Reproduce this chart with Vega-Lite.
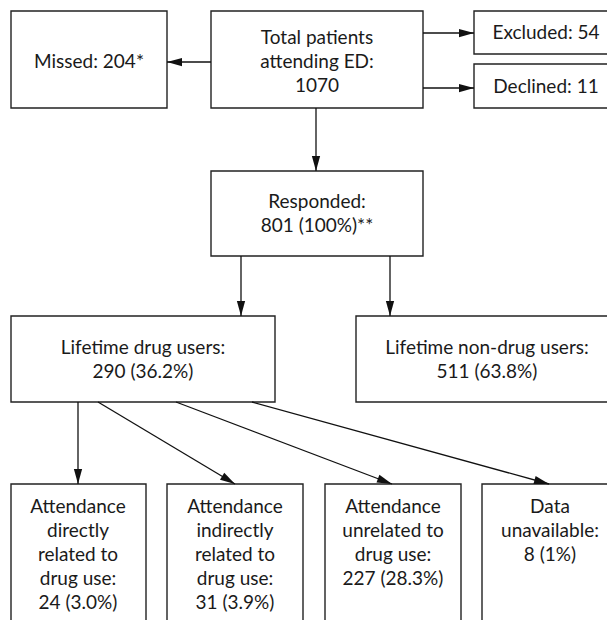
{
  "$schema": "https://vega.github.io/schema/vega-lite/v6.json",
  "width": 607,
  "height": 620,
  "padding": 0,
  "autosize": {"type": "fit", "contains": "padding"},
  "background": "white",
  "config": {"view": {"stroke": null}},
  "datasets": {
    "boxes": [
      {"name": "Missed", "x1": 11, "y1": 11, "x2": 167, "y2": 108},
      {"name": "Total", "x1": 211, "y1": 11, "x2": 423, "y2": 108},
      {"name": "Excluded", "x1": 474, "y1": 11, "x2": 618, "y2": 54},
      {"name": "Declined", "x1": 474, "y1": 64, "x2": 618, "y2": 108},
      {"name": "Responded", "x1": 211, "y1": 171, "x2": 423, "y2": 256},
      {"name": "Drug users", "x1": 11, "y1": 316, "x2": 275, "y2": 402},
      {"name": "Non-drug users", "x1": 356, "y1": 316, "x2": 618, "y2": 402},
      {"name": "Direct", "x1": 11, "y1": 484, "x2": 146, "y2": 640},
      {"name": "Indirect", "x1": 167, "y1": 484, "x2": 303, "y2": 640},
      {"name": "Unrelated", "x1": 325, "y1": 484, "x2": 461, "y2": 640},
      {"name": "Unavailable", "x1": 482, "y1": 484, "x2": 618, "y2": 640}
    ],
    "arrows": [
      {"fx": 211, "fy": 62, "tx": 167, "ty": 62},
      {"fx": 423, "fy": 33, "tx": 474, "ty": 33},
      {"fx": 423, "fy": 88, "tx": 474, "ty": 88},
      {"fx": 316, "fy": 108, "tx": 316, "ty": 171},
      {"fx": 241, "fy": 256, "tx": 241, "ty": 316},
      {"fx": 390, "fy": 256, "tx": 390, "ty": 316},
      {"fx": 78, "fy": 402, "tx": 78, "ty": 484},
      {"fx": 98, "fy": 402, "tx": 235, "ty": 484},
      {"fx": 176, "fy": 402, "tx": 392, "ty": 484},
      {"fx": 252, "fy": 402, "tx": 549, "ty": 484}
    ],
    "labels": [
      {"x": 89, "y": 62, "t": "Missed: 204*"},
      {"x": 317, "y": 38, "t": "Total patients"},
      {"x": 317, "y": 62, "t": "attending ED:"},
      {"x": 317, "y": 86, "t": "1070"},
      {"x": 546, "y": 33, "t": "Excluded: 54"},
      {"x": 546, "y": 87, "t": "Declined: 11"},
      {"x": 317, "y": 202, "t": "Responded:"},
      {"x": 317, "y": 226, "t": "801 (100%)**"},
      {"x": 143, "y": 348, "t": "Lifetime drug users:"},
      {"x": 143, "y": 372, "t": "290 (36.2%)"},
      {"x": 487, "y": 348, "t": "Lifetime non-drug users:"},
      {"x": 487, "y": 372, "t": "511 (63.8%)"},
      {"x": 78, "y": 507, "t": "Attendance"},
      {"x": 78, "y": 531, "t": "directly"},
      {"x": 78, "y": 555, "t": "related to"},
      {"x": 78, "y": 579, "t": "drug use:"},
      {"x": 78, "y": 603, "t": "24 (3.0%)"},
      {"x": 235, "y": 507, "t": "Attendance"},
      {"x": 235, "y": 531, "t": "indirectly"},
      {"x": 235, "y": 555, "t": "related to"},
      {"x": 235, "y": 579, "t": "drug use:"},
      {"x": 235, "y": 603, "t": "31 (3.9%)"},
      {"x": 393, "y": 507, "t": "Attendance"},
      {"x": 393, "y": 531, "t": "unrelated to"},
      {"x": 393, "y": 555, "t": "drug use:"},
      {"x": 393, "y": 579, "t": "227 (28.3%)"},
      {"x": 550, "y": 507, "t": "Data"},
      {"x": 550, "y": 531, "t": "unavailable:"},
      {"x": 550, "y": 555, "t": "8 (1%)"}
    ]
  },
  "layer": [
    {
      "data": {"name": "boxes"},
      "mark": {"type": "rect", "fill": "white", "stroke": "#222222", "strokeWidth": 1.4, "clip": true},
      "encoding": {
        "x": {"field": "x1", "type": "quantitative", "axis": null, "scale": {"domain": [0, 607], "nice": false, "zero": false}},
        "x2": {"field": "x2"},
        "y": {"field": "y1", "type": "quantitative", "axis": null, "scale": {"domain": [0, 620], "nice": false, "zero": false, "reverse": true}},
        "y2": {"field": "y2"}
      }
    },
    {
      "data": {"name": "arrows"},
      "mark": {"type": "rule", "stroke": "#111111", "strokeWidth": 1.3},
      "encoding": {
        "x": {"field": "fx", "type": "quantitative"},
        "y": {"field": "fy", "type": "quantitative"},
        "x2": {"field": "tx"},
        "y2": {"field": "ty"}
      }
    },
    {
      "data": {"name": "arrows"},
      "transform": [
        {"calculate": "atan2(datum.tx - datum.fx, -(datum.ty - datum.fy)) * 180 / PI", "as": "ang"}
      ],
      "mark": {"type": "point", "shape": "M0,0L0.55,2L-0.55,2Z", "filled": true, "fill": "#111111", "stroke": null, "size": 225, "opacity": 1},
      "encoding": {
        "x": {"field": "tx", "type": "quantitative"},
        "y": {"field": "ty", "type": "quantitative"},
        "angle": {"field": "ang", "type": "quantitative", "scale": null}
      }
    },
    {
      "data": {"name": "labels"},
      "mark": {"type": "text", "font": "Lato", "fontSize": 19, "fill": "#1a1a1a", "align": "center", "baseline": "middle", "clip": true},
      "encoding": {
        "x": {"field": "x", "type": "quantitative"},
        "y": {"field": "y", "type": "quantitative"},
        "text": {"field": "t", "type": "nominal"}
      }
    }
  ]
}
